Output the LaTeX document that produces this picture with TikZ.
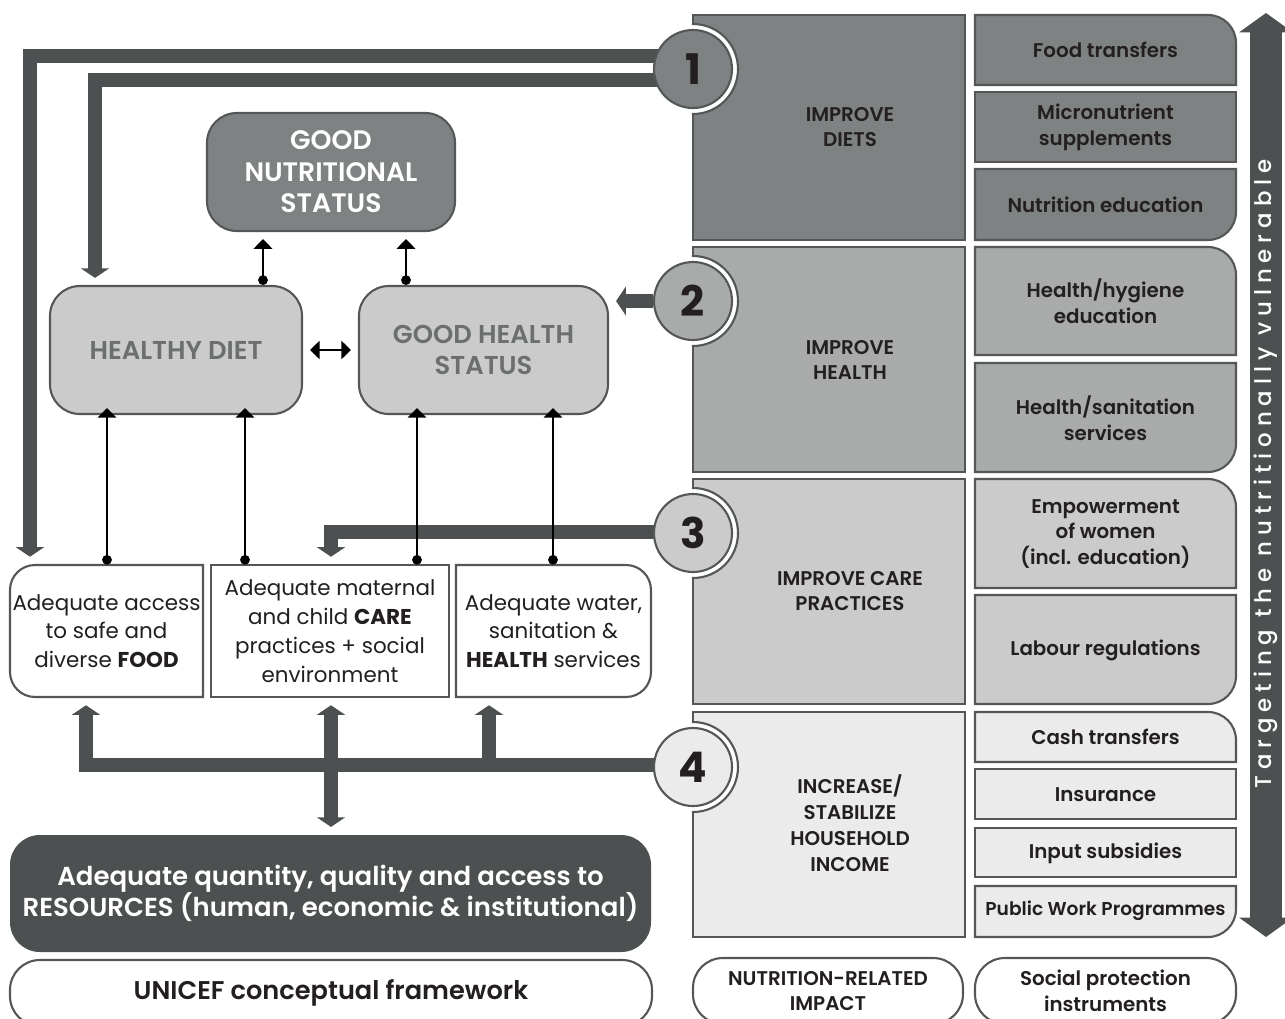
\documentclass[tikz,border=0pt]{standalone}
\usepackage{fontspec}
\setmainfont{Poppins}
\IfFontExistsTF{Poppins SemiBold}
  {\newfontfamily\medfont{Poppins SemiBold}
   \newfontfamily\spacedfont[LetterSpace=26]{Poppins Medium}}
  {\newcommand\medfont{\bfseries}
   \newfontfamily\spacedfont[LetterSpace=26]{Poppins}}
\usetikzlibrary{arrows.meta,backgrounds}
\definecolor{darkg}{HTML}{4D5050}
\definecolor{lineg}{HTML}{535757}
\definecolor{gA}{HTML}{7F8282}
\definecolor{gB}{HTML}{A9ABAA}
\definecolor{gC}{HTML}{CBCBCB}
\definecolor{gD}{HTML}{EBEBEB}
\definecolor{txtg}{HTML}{6C6F6F}
\definecolor{ink}{HTML}{231F20}

\begin{document}
\begin{tikzpicture}[x=0.02cm, y=-0.02cm,
  sz/.style 2 args={minimum width=#1*0.02cm, minimum height=#2*0.02cm},
  outl/.style={draw=lineg, line width=1.2pt},
  rbox/.style={outl, rounded corners=17pt, align=center, inner sep=0pt},
  txt/.style={align=center, inner sep=0pt, text=ink},
  impact/.style={txt, font=\fontsize{11.3}{14.7}\selectfont\medfont},
  inst/.style={txt, font=\fontsize{11.3}{14.7}\selectfont\medfont},
  basic/.style={txt, font=\fontsize{12.2}{16.4}\selectfont},
  numc/.style={circle, outl, inner sep=0pt, minimum size=78*0.02cm, text=ink,
               font=\fontsize{24}{24}\selectfont\bfseries},
  bigarr/.style={darkg, line width=8.5pt, line join=miter, -{Triangle[width=16pt,length=5.5pt]}},
  thinarr/.style={black, line width=1.1pt, {Circle[length=5.5pt]}-{Triangle[width=10.5pt,length=5.5pt]}}
]
\useasboundingbox (0,0) rectangle (1285,1018);
\clip (0,0) rectangle (1285,1018);

% UNICEF framework
\node[rbox, fill=gA, sz={248}{118}, text=white, font=\fontsize{15.2}{18}\selectfont\medfont]
  (nutri) at (331,172) {GOOD\\NUTRITIONAL\\STATUS};
\node[rbox, fill=gC, sz={252}{128}, text=txtg, font=\fontsize{14.7}{18}\selectfont\medfont]
  (diet) at (176,350) {HEALTHY DIET};
\node[rbox, fill=gC, sz={249}{128}, text=txtg, font=\fontsize{14.7}{18}\selectfont\medfont]
  (hstat) at (483.5,350) {GOOD HEALTH\\STATUS};

\draw[outl, fill=white] (203,565) -- (35,565) arc[start angle=270, end angle=180, radius=25]
  -- (10,672) arc[start angle=180, end angle=90, radius=25] -- (203,697) -- cycle;
\draw[outl, fill=white] (211,565) rectangle (449,697);
\draw[outl, fill=white] (456,565) -- (626,565) arc[start angle=270, end angle=360, radius=25]
  -- (651,672) arc[start angle=0, end angle=90, radius=25] -- (456,697) -- cycle;
\node[basic, sz={193}{132}] (food) at (106.5,631) {Adequate access\\to safe and\\diverse \textbf{FOOD}};
\node[basic, sz={238}{132}] (care) at (330,631) {Adequate maternal\\and child \textbf{CARE}\\practices + social\\environment};
\node[basic, sz={195}{132}] (water) at (553.5,631) {Adequate water,\\sanitation \&\\\textbf{HEALTH} services};

\node[rbox, fill=darkg, draw=none, sz={641}{117}, text=white, font=\fontsize{14.8}{18}\selectfont\medfont]
  (res) at (330.5,893.5) {Adequate quantity, quality and access to\\RESOURCES (human, economic \& institutional)};

% nutrition-related impact
\node[outl, fill=gA, sz={272}{225}] (diets) at (829,127.5) {};
\node[outl, fill=gB, sz={272}{225}] (health) at (829,359.5) {};
\node[outl, fill=gC, sz={272}{225}] (carep) at (829,591.5) {};
\node[outl, fill=gD, sz={272}{225}] (income) at (829,824.5) {};
\foreach \b/\cy in {diets/69, health/301, carep/533, income/767} {
  \begin{scope}
    \clip (\b.north west) rectangle (\b.south east);
    \draw[outl, fill=white] (693,\cy) circle[radius=45];
  \end{scope}
}
\node[impact] (tdiets) at (850,127) {IMPROVE\\DIETS};
\node[impact] (thealth) at (850,360) {IMPROVE\\HEALTH};
\node[impact] (tcare) at (850,591) {IMPROVE CARE\\PRACTICES};
\node[impact] (tincome) at (850,823) {INCREASE/\\STABILIZE\\HOUSEHOLD\\INCOME};

\node[numc, fill=gA] (n1) at (693,69) {1};
\node[numc, fill=gB] (n2) at (693,301) {2};
\node[numc, fill=gC] (n3) at (693,533) {3};
\node[numc, fill=gD] (n4) at (693,767) {4};

% social protection instruments
\draw[outl, fill=gA] (975,85) -- (975,15) -- (1208,15) arc[start angle=270, end angle=360, radius=28] -- (1236,85) -- cycle;
\draw[outl, fill=gA] (975,92) rectangle (1236,162);
\draw[outl, fill=gA] (975,169) -- (1236,169) -- (1236,212) arc[start angle=0, end angle=90, radius=28] -- (975,240) -- cycle;
\draw[outl, fill=gB] (975,355) -- (975,247) -- (1208,247) arc[start angle=270, end angle=360, radius=28] -- (1236,355) -- cycle;
\draw[outl, fill=gB] (975,363) -- (1236,363) -- (1236,444) arc[start angle=0, end angle=90, radius=28] -- (975,472) -- cycle;
\draw[outl, fill=gC] (975,588) -- (975,479) -- (1208,479) arc[start angle=270, end angle=360, radius=28] -- (1236,588) -- cycle;
\draw[outl, fill=gC] (975,595) -- (1236,595) -- (1236,676) arc[start angle=0, end angle=90, radius=28] -- (975,704) -- cycle;
\draw[outl, fill=gD] (975,762) -- (975,712) -- (1208,712) arc[start angle=270, end angle=360, radius=28] -- (1236,762) -- cycle;
\draw[outl, fill=gD] (975,769) rectangle (1236,819);
\draw[outl, fill=gD] (975,828) rectangle (1236,877);
\draw[outl, fill=gD] (975,886) -- (1236,886) -- (1236,909) arc[start angle=0, end angle=90, radius=28] -- (975,937) -- cycle;
\node[inst] (ftrans) at (1105.5,50) {Food transfers};
\node[inst] (micro) at (1105.5,127) {Micronutrient\\supplements};
\node[inst] (nedu) at (1105.5,205) {Nutrition education};
\node[inst] (hyg) at (1105.5,301) {Health/hygiene\\education};
\node[inst] (sanit) at (1105.5,418) {Health/sanitation\\services};
\node[inst] (women) at (1105.5,534) {Empowerment\\of women\\(incl. education)};
\node[inst] (labour) at (1105.5,650) {Labour regulations};
\node[inst] (cash) at (1105.5,737) {Cash transfers};
\node[inst] (insur) at (1105.5,795) {Insurance};
\node[inst] (input) at (1105.5,853) {Input subsidies};
\node[inst, font=\fontsize{10.6}{14.7}\selectfont\medfont] (pwp) at (1105.5,911) {Public Work Programmes};

% targeting arrow
\coordinate (ttop) at (1266,13);
\coordinate (tbot) at (1266,937);
\draw[darkg, line width=18pt, {Triangle[width=30pt,length=11pt]}-{Triangle[width=30pt,length=11pt]}] (tbot) -- (ttop);
\node[rotate=90, text=white, font=\spacedfont\fontsize{13}{13}\selectfont] (target) at (1266,474)
  {Targeting the nutritionally vulnerable};

% bottom labels
\node[rbox, fill=white, sz={642}{66}, text=ink, font=\fontsize{14.6}{15}\selectfont\medfont]
  (lunicef) at (331,993) {UNICEF conceptual framework};
\node[rbox, fill=white, sz={270}{66}, text=ink, font=\fontsize{11.3}{14.5}\selectfont\medfont]
  (limpact) at (828,991) {NUTRITION-RELATED\\IMPACT};
\node[rbox, fill=white, sz={261}{66}, text=ink, font=\fontsize{11.3}{14.5}\selectfont\medfont]
  (linst) at (1105.5,991) {Social protection\\instruments};

% links inside the framework
\draw[thinarr] (263,0 |- diet.north) -- ([yshift=-4pt]263,0 |- nutri.south);
\draw[thinarr] (406,0 |- hstat.north) -- ([yshift=-4pt]406,0 |- nutri.south);
\draw[thinarr] (107,0 |- food.north) -- ([yshift=4pt]107,0 |- diet.south);
\draw[thinarr] (245,0 |- care.north) -- ([yshift=4pt]245,0 |- diet.south);
\draw[thinarr] (417,0 |- care.north) -- ([yshift=4pt]417,0 |- hstat.south);
\draw[thinarr] (553,0 |- water.north) -- ([yshift=4pt]553,0 |- hstat.south);
\draw[black, line width=1.1pt, {Triangle[width=10.5pt,length=5.5pt]}-{Triangle[width=10.5pt,length=5.5pt]},
  shorten <=4pt, shorten >=4pt] (diet) -- (hstat);

% pathways from the interventions
\begin{scope}[on background layer]
\fill[white] (0,0) rectangle (1285,1018);
\draw[bigarr, shorten >=4.5pt] (n1 |- 0,56) -| (30,0 |- food.north);
\draw[bigarr, shorten >=4pt] (n1 |- 0,80) -| (95,0 |- diet.north);
\draw[bigarr, shorten >=4pt] (n2) -- (n2 -| hstat.east);
\draw[bigarr, shorten >=4.5pt] (n3 |- 0,532) -| (331,0 |- care.north);
\draw[bigarr, shorten >=4.5pt] (n4 |- 0,765) -| (86,0 |- food.south);
\draw[bigarr, shorten >=4.5pt] (489,765) -- (489,0 |- water.south);
\draw[bigarr, {Triangle[width=16pt,length=5.5pt]}-{Triangle[width=16pt,length=5.5pt]},
  shorten <=4.5pt, shorten >=4pt] (331,0 |- care.south) -- (331,0 |- res.north);
\end{scope}
\end{tikzpicture}
\end{document}
